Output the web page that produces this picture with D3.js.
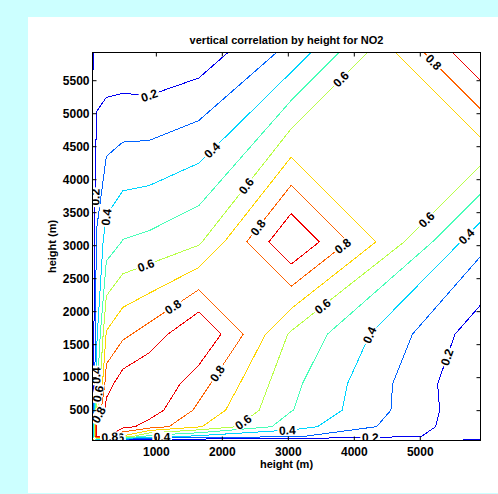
<!DOCTYPE html>
<html>
<head>
<meta charset="utf-8">
<script src="https://cdn.jsdelivr.net/npm/d3@7"></script>
<style>
body { margin: 0; background: #ccffff; }
svg { display: block; font-family: "Liberation Sans", Arial, Helvetica, sans-serif; }
</style>
</head>
<body>
<svg id="chart" width="498" height="494"></svg>
<script>
// height levels (m) of the correlation grid, same on both axes
const heights = [40, 100, 250, 500, 900, 1650, 3050, 5920];

// NO2 correlation between height levels, row = y level, column = x level
const corr = [
  [1.00, 0.12, 0.12,  0.12,  0.11,  0.10,  0.10,  0.22 ],
  [0.12, 1.00, 0.92,  0.68,  0.45,  0.37,  0.31,  0.15 ],
  [0.12, 0.92, 1.00,  0.935, 0.86,  0.71,  0.445, 0.124],
  [0.12, 0.68, 0.935, 1.00,  0.95,  0.78,  0.505, 0.116],
  [0.11, 0.45, 0.86,  0.95,  1.00,  0.84,  0.525, 0.105],
  [0.10, 0.37, 0.71,  0.78,  0.84,  1.00,  0.585, 0.14 ],
  [0.10, 0.31, 0.445, 0.505, 0.525, 0.585, 1.00,  0.33 ],
  [0.22, 0.15, 0.124, 0.116, 0.105, 0.14,  0.33,  1.00 ]
];

const levels = [0.2, 0.3, 0.4, 0.5, 0.6, 0.7, 0.8, 0.9];
const xTicks = [1000, 2000, 3000, 4000, 5000];
const yTicks = [500, 1000, 1500, 2000, 2500, 3000, 3500, 4000, 4500, 5000, 5500];

// inline contour labels (clabel): level and rough spot in metres
const labelLevel = [0.2, 0.2, 0.4, 0.4, 0.6, 0.6, 0.8, 0.8, 0.8, 0.6, 0.4, 0.8, 0.6,
                    0.6, 0.4, 0.8, 0.2, 0.6, 0.4, 0.2, 0.6, 0.8, 0.4, 0.4, 0.6, 0.8];
const labelX = [910, 75, 1881, 257, 2354, 849, 1274, 2580, 3824, 5098, 5705, 5200, 3818,
                3515, 4248, 1922, 5412, 2325, 2993, 4248, 395, 303, 1096, 75, 125, 151];
const labelY = [5245, 3727, 4410, 3424, 3910, 2695, 2043, 3242, 2999, 3389, 3136, 5765, 5503,
                2089, 1633, 1061, 1304, 318, 157, 81, 85, 101, 50, 1026, 749, 419];

const svg = d3.select("#chart");
svg.append("rect").attr("x", 28).attr("y", 17).attr("width", 470).attr("height", 476).attr("fill", "#fff");

const box = { left: 92.5, right: 480.5, top: 52.5, bottom: 440.5 };
const n = heights.length;

const x = d3.scaleLinear().domain([heights[0], heights[n - 1]]).range([box.left, box.right]);
const y = d3.scaleLinear().domain([heights[0], heights[n - 1]]).range([box.bottom, box.top]);
// grid index -> metres (d3.contours puts value i at i + 0.5)
const idx = d3.scaleLinear().domain(d3.range(n)).range(heights).clamp(true);
const toPx = p => [x(idx(p[0] - 0.5)), y(idx(p[1] - 0.5))];

const values = corr.flat();
const negValues = values.map(v => -v);
const vmin = d3.min(values), vmax = d3.max(values);

// jet colormap over the data range
const color = d3.scaleLinear()
  .domain([0, 0.125, 0.375, 0.625, 0.875, 1].map(t => vmin + t * (vmax - vmin)))
  .range(["#00007f", "#0000ff", "#00ffff", "#ffff00", "#ff0000", "#7f0000"]);

const gen = d3.contours().size([n, n]);

svg.append("clipPath").attr("id", "plotclip")
  .append("rect").attr("x", box.left).attr("y", box.top)
  .attr("width", box.right - box.left).attr("height", box.bottom - box.top);

const lineLayer = svg.append("g").attr("clip-path", "url(#plotclip)");
const segsByLevel = {};

levels.forEach(L => {
  // saddle cells where the cell mean is above the level: highs join (matlab style)
  const joined = new Set();
  for (let j = 0; j < n - 1; j++) {
    for (let i = 0; i < n - 1; i++) {
      const a = corr[j][i], b = corr[j][i + 1], c = corr[j + 1][i + 1], d = corr[j + 1][i];
      const ha = a >= L, hb = b >= L, hc = c >= L, hd = d >= L;
      if (ha === hc && hb === hd && ha !== hb && (a + b + c + d) / 4 >= L) joined.add(i + "," + j);
    }
  }
  const inJoined = (p, q) => joined.has(Math.floor((p[0] + q[0]) / 2 - 0.5) + "," + Math.floor((p[1] + q[1]) / 2 - 0.5));
  const onEdge = (p, q) =>
    (p[0] <= 0.5 && q[0] <= 0.5) || (p[0] >= n - 0.5 && q[0] >= n - 0.5) ||
    (p[1] <= 0.5 && q[1] <= 0.5) || (p[1] >= n - 0.5 && q[1] >= n - 0.5);

  const path = d3.path();
  const segs = [];
  // d3 always splits highs at saddles; the negated field gives the joined case
  [[gen.contour(values, L), false], [gen.contour(negValues, -L), true]].forEach(([geo, neg]) => {
    geo.coordinates.forEach(poly => poly.forEach(ring => {
      let pen = false;
      for (let k = 0; k < ring.length - 1; k++) {
        const p = ring[k], q = ring[k + 1];
        if (!onEdge(p, q) && inJoined(p, q) === neg) {
          const a = toPx(p), b = toPx(q);
          if (!pen) path.moveTo(a[0], a[1]);
          path.lineTo(b[0], b[1]);
          segs.push([a, b]);
          pen = true;
        } else {
          pen = false;
        }
      }
    }));
  });
  segsByLevel[L] = segs;

  lineLayer.append("path")
    .attr("d", path.toString())
    .attr("fill", "none")
    .attr("stroke", color(L))
    .attr("stroke-width", 1)
    .attr("shape-rendering", "crispEdges");
});

// contour labels, snapped onto their line and turned along it
const labelLayer = svg.append("g").attr("clip-path", "url(#plotclip)");
labelLevel.forEach((L, k) => {
  const px = x(labelX[k]), py = y(labelY[k]);
  let best = null;
  segsByLevel[L].forEach(([a, b]) => {
    const dx = b[0] - a[0], dy = b[1] - a[1];
    const len2 = dx * dx + dy * dy || 1;
    const t = Math.max(0, Math.min(1, ((px - a[0]) * dx + (py - a[1]) * dy) / len2));
    const sx = a[0] + t * dx, sy = a[1] + t * dy;
    const dist = (sx - px) ** 2 + (sy - py) ** 2;
    if (!best || dist < best.dist) best = { dist, sx, sy, ang: Math.atan2(dy, dx) * 180 / Math.PI };
  });
  if (!best) return;
  let ang = best.ang;
  if (ang > 90) ang -= 180;
  if (ang <= -90) ang += 180;
  const g = labelLayer.append("g").attr("transform", `translate(${best.sx},${best.sy}) rotate(${ang})`);
  const bg = g.append("rect").attr("fill", "#fff");
  const txt = g.append("text")
    .attr("text-anchor", "middle")
    .attr("dy", "0.36em")
    .style("font", "bold 12px 'Liberation Sans', Arial, sans-serif")
    .text(L.toFixed(1));
  const w = txt.node().getComputedTextLength() + 3;
  bg.attr("x", -w / 2).attr("y", -5).attr("width", w).attr("height", 10);
});

// axes box with inward ticks on all sides
const tickFont = "bold 12px 'Liberation Sans', Arial, sans-serif";
svg.append("g").attr("transform", `translate(0,${box.bottom})`)
  .call(d3.axisBottom(x).tickValues(xTicks).tickSizeInner(-4).tickSizeOuter(0).tickPadding(7).tickFormat(d3.format("d")))
  .call(g => g.select(".domain").remove())
  .style("font", tickFont);
svg.append("g").attr("transform", `translate(0,${box.top})`)
  .call(d3.axisTop(x).tickValues(xTicks).tickSizeInner(-4).tickSizeOuter(0).tickFormat(""))
  .call(g => g.select(".domain").remove());
svg.append("g").attr("transform", `translate(${box.left},0)`)
  .call(d3.axisLeft(y).tickValues(yTicks).tickSizeInner(-4).tickSizeOuter(0).tickPadding(3).tickFormat(d3.format("d")))
  .call(g => g.select(".domain").remove())
  .style("font", tickFont);
svg.append("g").attr("transform", `translate(${box.right},0)`)
  .call(d3.axisRight(y).tickValues(yTicks).tickSizeInner(-4).tickSizeOuter(0).tickFormat(""))
  .call(g => g.select(".domain").remove());

svg.append("rect")
  .attr("x", box.left).attr("y", box.top)
  .attr("width", box.right - box.left).attr("height", box.bottom - box.top)
  .attr("fill", "none").attr("stroke", "#000").attr("stroke-width", 1);

const labelFont = "bold 11px 'Liberation Sans', Arial, sans-serif";
svg.append("text")
  .attr("x", (box.left + box.right) / 2).attr("y", 43.5)
  .attr("text-anchor", "middle").style("font", labelFont)
  .text("vertical correlation by height for NO2");
svg.append("text")
  .attr("x", (box.left + box.right) / 2).attr("y", 468)
  .attr("text-anchor", "middle").style("font", labelFont)
  .text("height (m)");
svg.append("text")
  .attr("transform", `translate(55.5,${(box.top + box.bottom) / 2}) rotate(-90)`)
  .attr("text-anchor", "middle").style("font", labelFont)
  .text("height (m)");
</script>
</body>
</html>
